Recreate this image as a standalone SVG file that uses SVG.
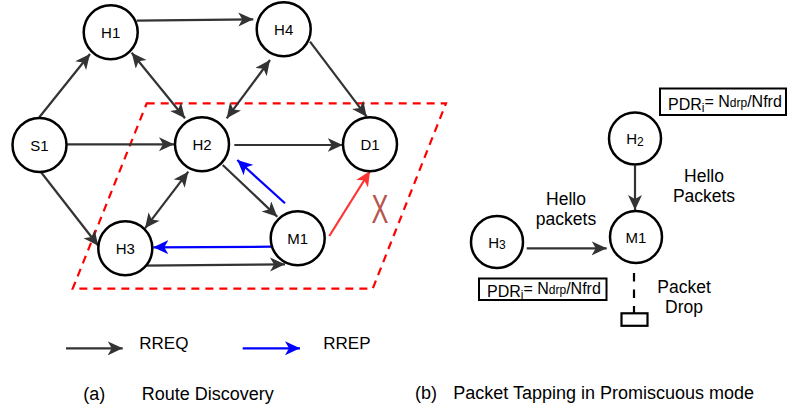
<svg xmlns="http://www.w3.org/2000/svg" width="789" height="408" viewBox="0 0 789 408">
<style>
.nd{fill:#fff;stroke:#000;stroke-width:2.5}
.lb{font-family:"Liberation Sans",Arial,sans-serif;font-size:15px;text-anchor:middle;fill:#000}
.tx{font-family:"Liberation Sans",Arial,sans-serif;fill:#000}
.e{fill:none;stroke:#333;stroke-width:2.2}
.eb{fill:none;stroke:#0000FF;stroke-width:2.2}
.er{fill:none;stroke:#FF3333;stroke-width:2.2}
.bx{fill:#fff;stroke:#000;stroke-width:2}
</style>
<defs>
<marker id="ak" markerWidth="17" markerHeight="15" refX="15" refY="7" orient="auto-start-reverse" markerUnits="userSpaceOnUse"><path d="M0,0 L15,7 L0,14 L4,7 Z" fill="#333"/></marker>
<marker id="ab" markerWidth="17" markerHeight="15" refX="15" refY="7" orient="auto-start-reverse" markerUnits="userSpaceOnUse"><path d="M0,0 L15,7 L0,14 L4,7 Z" fill="#0000FF"/></marker>
<marker id="ar" markerWidth="17" markerHeight="15" refX="15" refY="7" orient="auto-start-reverse" markerUnits="userSpaceOnUse"><path d="M0,0 L15,7 L0,14 L4,7 Z" fill="#FF3333"/></marker>
</defs>
<rect width="789" height="408" fill="#fff"/>
<g id="zone">
<polygon points="146.7,103.3 446,103.3 372.7,288.7 72.7,288.7" fill="none" stroke="#FF0000" stroke-width="2.2" stroke-dasharray="8 6"/>
</g>
<g id="connectors">
<line class="e" x1="136.7" y1="20.7" x2="253.3" y2="19.3" marker-end="url(#ak)"/>
<line class="e" x1="310" y1="41.7" x2="366.7" y2="116.7" marker-end="url(#ak)"/>
<line class="e" x1="39.3" y1="117.3" x2="90" y2="54" marker-end="url(#ak)"/>
<line class="e" x1="131.7" y1="52.7" x2="185" y2="118.3" marker-start="url(#ak)" marker-end="url(#ak)"/>
<line class="e" x1="270" y1="60" x2="226.7" y2="118.3" marker-start="url(#ak)" marker-end="url(#ak)"/>
<line class="e" x1="66.7" y1="144.3" x2="174" y2="144.3" marker-end="url(#ak)"/>
<line class="e" x1="234.3" y1="145" x2="342.7" y2="145" marker-end="url(#ak)"/>
<line class="e" x1="40.7" y1="171.7" x2="98.3" y2="245.7" marker-end="url(#ak)"/>
<line class="e" x1="188.3" y1="171.7" x2="145" y2="228.3" marker-start="url(#ak)" marker-end="url(#ak)"/>
<line class="e" x1="222.7" y1="165" x2="277.3" y2="216.7" marker-end="url(#ak)"/>
<line class="eb" x1="285" y1="203.3" x2="237.3" y2="160" marker-end="url(#ab)"/>
<line class="eb" x1="271.7" y1="246.7" x2="153.3" y2="247.3" marker-end="url(#ab)"/>
<line class="e" x1="142.7" y1="265.7" x2="285" y2="264.3" marker-end="url(#ak)"/>
<line class="er" x1="329.3" y1="236" x2="370" y2="171" marker-end="url(#ar)"/>
<line class="e" x1="635" y1="165.5" x2="635" y2="210" marker-end="url(#ak)"/>
<line class="e" x1="526.7" y1="248.3" x2="606.7" y2="248.3" marker-end="url(#ak)"/>
<line x1="634" y1="273" x2="634" y2="313" stroke="#000" stroke-width="2.2" stroke-dasharray="8.5 8"/>
<line class="e" x1="66" y1="348.3" x2="122.7" y2="348.3" marker-end="url(#ak)"/>
<line class="eb" x1="242.7" y1="348.3" x2="300" y2="348.3" marker-end="url(#ab)"/>
</g>
<g id="H1"><circle class="nd" cx="110.7" cy="32.3" r="27"/><text class="lb" x="110.7" y="37.8">H1</text></g>
<g id="H4"><circle class="nd" cx="283.7" cy="29.3" r="27"/><text class="lb" x="283.7" y="34.8">H4</text></g>
<g id="S1"><circle class="nd" cx="39.5" cy="145" r="27"/><text class="lb" x="39.5" y="150.5">S1</text></g>
<g id="H2"><circle class="nd" cx="202" cy="144.3" r="27"/><text class="lb" x="202" y="149.8">H2</text></g>
<g id="D1"><circle class="nd" cx="370" cy="144.3" r="27"/><text class="lb" x="370" y="149.8">D1</text></g>
<g id="H3"><circle class="nd" cx="125.3" cy="248.3" r="27"/><text class="lb" x="125.3" y="253.8">H3</text></g>
<g id="M1"><circle class="nd" cx="297.7" cy="238.3" r="27"/><text class="lb" x="297.7" y="243.8">M1</text></g>
<g id="X-mark"><text transform="translate(380,222.7) scale(0.62,1)" text-anchor="middle" font-family="Liberation Sans,Arial,sans-serif" font-size="41" fill="#B85450">X</text></g>
<g id="R-H2"><circle class="nd" cx="635" cy="138.5" r="26"/><text class="lb" x="635" y="144">H<tspan font-size="12" dy="1.5">2</tspan></text></g>
<g id="R-M1"><circle class="nd" cx="636" cy="237" r="26"/><text class="lb" x="636" y="242.5">M1</text></g>
<g id="R-H3"><circle class="nd" cx="497" cy="242" r="26"/><text class="lb" x="497" y="247.5">H<tspan font-size="12" dy="1.5">3</tspan></text></g>
<g id="drop"><rect x="621.5" y="313.3" width="26" height="12.5" fill="#fff" stroke="#000" stroke-width="2.2"/></g>
<g id="pdr-top"><rect class="bx" x="660" y="88.5" width="126" height="26.5"/><text class="tx" x="668" y="110" font-size="16">PDR<tspan font-size="12" dy="2">i</tspan><tspan dy="-5">= N</tspan><tspan font-size="12">drp</tspan>/Nfrd</text></g>
<g id="pdr-bottom"><rect class="bx" x="479" y="278.5" width="127.5" height="21.5"/><text class="tx" x="487" y="296.5" font-size="16">PDR<tspan font-size="12" dy="2">i</tspan><tspan dy="-5">= N</tspan><tspan font-size="12">drp</tspan>/Nfrd</text></g>
<g id="labels">
<text class="tx" x="704" y="181.7" font-size="17.5" text-anchor="middle">Hello</text>
<text class="tx" x="704" y="201.7" font-size="17.5" text-anchor="middle">Packets</text>
<text class="tx" x="566" y="205" font-size="17.5" text-anchor="middle">Hello</text>
<text class="tx" x="566" y="224.5" font-size="17.5" text-anchor="middle">packets</text>
<text class="tx" x="684" y="293.3" font-size="17.5" text-anchor="middle">Packet</text>
<text class="tx" x="684" y="313.3" font-size="17.5" text-anchor="middle">Drop</text>
<text class="tx" x="139.3" y="349.3" font-size="17">RREQ</text>
<text class="tx" x="323.3" y="349.3" font-size="17">RREP</text>
<text class="tx" x="83.3" y="400" font-size="18">(a)</text>
<text class="tx" x="141.7" y="400" font-size="18">Route Discovery</text>
<text class="tx" x="415" y="399.3" font-size="18">(b)</text>
<text class="tx" x="453.3" y="399.3" font-size="18">Packet Tapping in Promiscuous mode</text>
</g>
</svg>
